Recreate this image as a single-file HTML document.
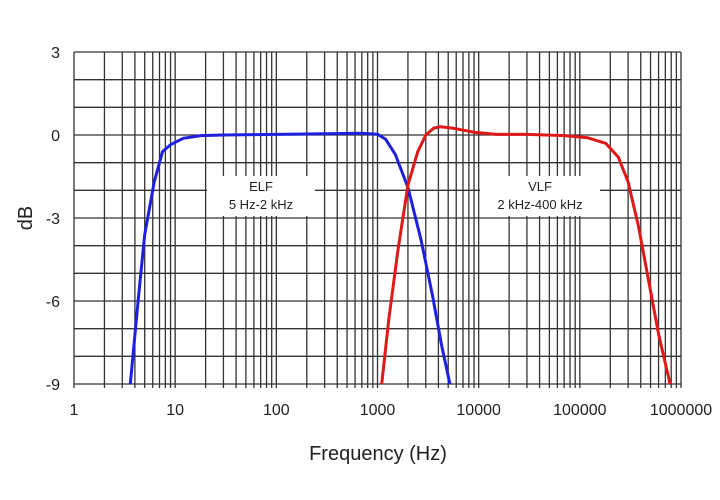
<!DOCTYPE html>
<html><head><style>
html,body{margin:0;padding:0;background:#fff;width:720px;height:500px;overflow:hidden}
svg{display:block;font-family:"Liberation Sans",Arial,sans-serif}
</style></head><body>
<svg id="s" width="720" height="500" viewBox="0 0 720 500" xmlns="http://www.w3.org/2000/svg"></svg>
<script>
const L=74,R=681,T=52,B=384;
const X=f=>L+Math.log10(f)*(R-L)/6;
const Y=d=>T+(3-d)*(B-T)/12;
let h='';
for(let d=3;d>=-9;d--){h+=`<line x1="${L}" x2="${R}" y1="${Y(d)}" y2="${Y(d)}" stroke="#333" stroke-width="1.3"/>`;}
for(let e=0;e<6;e++)for(let m=1;m<=9;m++){const x=X(m*10**e);h+=`<line x1="${x}" x2="${x}" y1="${T}" y2="${B+4}" stroke="#333" stroke-width="1.3"/>`;}
h+=`<line x1="${R}" x2="${R}" y1="${T}" y2="${B+4}" stroke="#333" stroke-width="1.3"/>`;
for(let d=3;d>=-9;d-=3)h+=`<text x="${L-14}" y="${Y(d)+6}" font-size="16" text-anchor="end" fill="#222">${d}</text>`;
const labs=['1','10','100','1000','10000','100000','1000000'];
labs.forEach((t,i)=>h+=`<text x="${X(10**i)}" y="${B+31}" font-size="16" text-anchor="middle" fill="#222">${t}</text>`);
h+=`<text x="378" y="460" font-size="20" text-anchor="middle" fill="#222">Frequency (Hz)</text>`;
h+=`<text transform="translate(32,218) rotate(-90)" font-size="20" text-anchor="middle" fill="#222">dB</text>`;
h+=`<rect x="207" y="176" width="108" height="40" fill="#fff"/>`;
h+=`<text x="261" y="191" font-size="13" text-anchor="middle" fill="#222">ELF</text><text x="261" y="209" font-size="13" text-anchor="middle" fill="#222">5 Hz-2 kHz</text>`;
h+=`<rect x="480" y="176" width="120" height="40" fill="#fff"/>`;
h+=`<text x="540" y="191" font-size="13" text-anchor="middle" fill="#222">VLF</text><text x="540" y="209" font-size="13" text-anchor="middle" fill="#222">2 kHz-400 kHz</text>`;
const blue=[[3.6,-9],[4.3,-6],[5,-3.6],[6.2,-1.7],[7.5,-0.6],[9,-0.35],[12,-0.12],[18,-0.02],[30,0],[100,0.02],[700,0.06],[1000,0.03],[1200,-0.15],[1500,-0.7],[2000,-1.9],[2700,-3.8],[3500,-5.8],[4300,-7.6],[5200,-9]];
const red=[[1100,-9],[1300,-6.6],[1600,-4.1],[2000,-1.8],[2500,-0.6],[3000,0],[3600,0.25],[4200,0.3],[5500,0.25],[9000,0.1],[15000,0.02],[30000,0.02],[70000,-0.02],[120000,-0.1],[180000,-0.3],[240000,-0.8],[300000,-1.7],[380000,-3.3],[480000,-5.3],[600000,-7.2],[780000,-9]];
const pth=(a,c)=>`<polyline fill="none" stroke="${c}" stroke-width="3" stroke-linejoin="round" points="${a.map(p=>X(p[0]).toFixed(1)+','+Y(p[1]).toFixed(1)).join(' ')}"/>`;
h+=pth(blue,'#1f1fe0')+pth(red,'#e01818');
document.getElementById('s').innerHTML=h;
</script>
</body></html>
